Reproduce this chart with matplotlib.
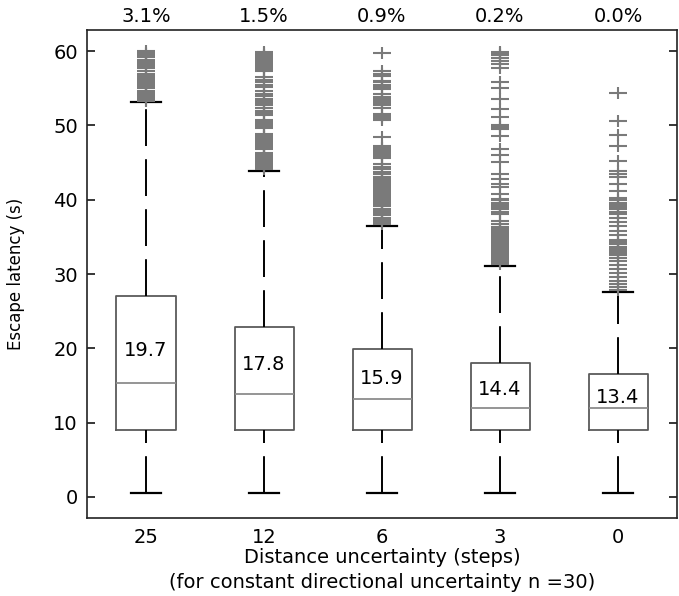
import matplotlib
matplotlib.use("Agg")
import matplotlib.pyplot as plt
from matplotlib.path import Path
from matplotlib.transforms import blended_transform_factory

# ---------------- data ----------------
categories = ["25", "12", "6", "3", "0"]
pct_labels = ["3.1%", "1.5%", "0.9%", "0.2%", "0.0%"]
means = [19.7, 17.8, 15.9, 14.4, 13.4]
medians = [15.3, 13.9, 13.1, 11.9, 11.9]
q1 = [9.0, 9.0, 9.0, 9.0, 9.0]
q3 = [27.0, 22.8, 19.9, 18.0, 16.6]
whisker_low = [0.5, 0.5, 0.5, 0.5, 0.5]
whisker_high = [53.1, 43.9, 36.5, 31.1, 27.6]

outliers_25 = [53.3, 53.5, 53.7, 53.9, 54.1, 54.3, 54.5, 54.7, 55.1, 55.3, 55.5,
               55.7, 55.9, 56.1, 56.3, 56.5, 56.7, 57.0, 57.4, 57.8, 58.0, 58.2,
               58.4, 58.6, 58.8, 59.2, 59.4, 59.6, 59.8, 60.0]
outliers_12 = [44.2, 44.4, 44.6, 44.8, 45.0, 45.2, 45.4, 45.6, 45.8, 46.0, 46.3,
               46.8, 47.0, 47.2, 47.4, 47.6, 47.8, 48.0, 48.2, 48.4, 48.6, 48.9,
               49.6, 49.9, 50.2, 50.5, 50.8, 51.4, 51.7, 52.0, 52.3, 52.7, 53.0,
               53.3, 53.6, 54.0, 54.3, 54.7, 55.2, 55.5, 55.8, 56.1, 56.5, 57.3,
               57.5, 57.7, 57.9, 58.1, 58.3, 58.5, 58.7, 58.9, 59.1, 59.3, 59.5,
               59.7, 59.9]
outliers_6 = [36.8, 37.0, 37.3, 37.6, 37.9, 38.2, 38.5, 38.8, 39.1, 39.4, 39.7,
              40.0, 40.2, 40.4, 40.6, 40.8, 41.0, 41.2, 41.4, 41.6, 41.8, 42.0,
              42.2, 42.4, 42.6, 42.8, 43.0, 43.4, 43.8, 44.1, 44.4, 44.8, 45.6,
              45.8, 46.0, 46.2, 46.4, 46.6, 46.8, 47.0, 47.2, 48.5, 50.7, 51.0,
              51.3, 51.6, 52.4, 52.7, 53.0, 53.3, 53.6, 53.9, 54.2, 54.9, 55.2,
              55.5, 55.8, 56.0, 56.7, 57.0, 57.3, 59.7]
outliers_3 = [31.4, 31.6, 31.8, 32.0, 32.2, 32.4, 32.6, 32.8, 33.0, 33.2, 33.4,
              33.6, 33.8, 34.0, 34.2, 34.4, 34.6, 34.8, 35.0, 35.2, 35.4, 35.6,
              35.8, 36.0, 36.3, 36.7, 37.2, 38.1, 38.4, 38.7, 39.0, 39.3, 39.6,
              39.9, 40.1, 40.8, 41.7, 42.1, 42.8, 43.4, 45.1, 46.0, 46.8, 48.6,
              49.5, 49.8, 50.0, 51.1, 52.2, 53.6, 55.0, 55.8, 57.8, 58.3, 58.7,
              59.1, 59.5, 59.7, 59.9]
outliers_0 = [27.9, 28.2, 28.6, 29.0, 29.6, 30.1, 30.7, 31.2, 31.8, 32.2, 32.5,
              32.8, 33.1, 33.4, 33.7, 34.0, 34.3, 34.6, 35.2, 35.8, 36.4, 37.0,
              37.6, 38.1, 38.4, 38.7, 39.0, 39.3, 39.6, 39.9, 40.3, 41.2, 42.1,
              43.0, 43.4, 43.9, 45.2, 47.2, 48.7, 50.6, 54.4]
outliers = [outliers_25, outliers_12, outliers_6, outliers_3, outliers_0]

x_label = "Distance uncertainty (steps)\n(for constant directional uncertainty n =30)"
y_label = "Escape latency (s)"

# ---------------- figure ----------------
plt.rcParams["font.family"] = ["DejaVu Sans"]
plt.rcParams["lines.scale_dashes"] = False

W, H = 679, 596
fig = plt.figure(figsize=(W / 100, H / 100), dpi=100)
ax = fig.add_axes([87 / W, 1 - 518 / H, 590 / W, 488 / H])

stats = []
for i in range(len(categories)):
    stats.append(dict(med=medians[i], q1=q1[i], q3=q3[i],
                      whislo=whisker_low[i], whishi=whisker_high[i],
                      fliers=outliers[i], mean=means[i], label=categories[i]))

plus = Path([(-1, 0), (1, 0), (0, -0.66), (0, 0.66)],
            [Path.MOVETO, Path.LINETO, Path.MOVETO, Path.LINETO])

gray = "#7a7a7a"
res = ax.bxp(stats, widths=0.5, capwidths=0.25, showmeans=False,
             boxprops=dict(color="#5a5a5a", linewidth=1.3),
             medianprops=dict(color="#8c8c8c", linewidth=1.3),
             whiskerprops=dict(color="black", linewidth=1.4,
                               linestyle=(0, (26.5, 9.5))),
             capprops=dict(color="black", linewidth=1.6),
             flierprops=dict(marker=plus, markersize=12.7,
                             markeredgecolor=gray, markerfacecolor="none",
                             markeredgewidth=1.5, linestyle="none"))

# draw lower whiskers from the cap upward (as in the reference)
for i in range(len(categories)):
    w = res["whiskers"][2 * i]
    w.set_ydata(list(w.get_ydata())[::-1])

positions = list(range(1, len(categories) + 1))
for i, p in enumerate(positions):
    ax.text(p, means[i], f"{means[i]:.1f}", ha="center", va="center",
            fontsize=14, color="black")

trans = blended_transform_factory(ax.transData, ax.transAxes)
for i, p in enumerate(positions):
    ax.text(p, 1.027, pct_labels[i], ha="center", va="center",
            fontsize=14, transform=trans, clip_on=False)

ax.set_xlim(0.5, 5.5)
ax.set_ylim(-2.86, 62.86)
ax.set_yticks([0, 10, 20, 30, 40, 50, 60])
ax.set_xticks(positions)
ax.set_xticklabels(categories)
ax.tick_params(axis="y", direction="in", length=5.8, width=1.1,
               left=True, right=True, labelsize=14, pad=6.5)
ax.tick_params(axis="x", length=0, labelsize=14, pad=7)
for s in ax.spines.values():
    s.set_linewidth(1.2)
    s.set_color("#222222")

ax.set_xlabel(x_label, fontsize=14, linespacing=1.4, labelpad=1)
ax.set_ylabel(y_label, fontsize=12, labelpad=20)

fig.savefig("out.png", dpi=100)
